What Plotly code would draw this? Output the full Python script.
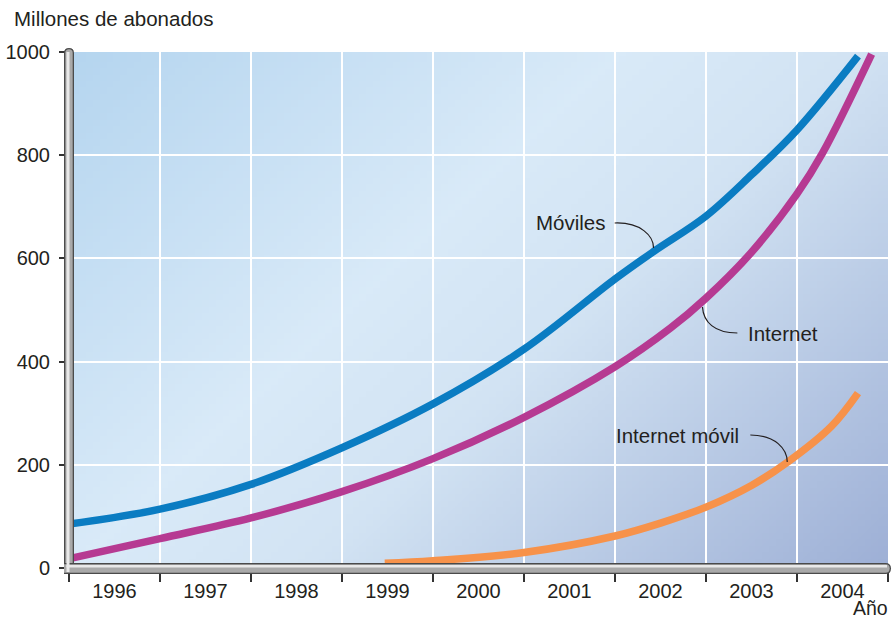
import base64, struct, zlib
import plotly.graph_objects as go

# ---------------- data ----------------
tick_years = [1996, 1997, 1998, 1999, 2000, 2001, 2002, 2003, 2004]
tick_labels = [str(y) for y in tick_years]
y_ticks = [0, 200, 400, 600, 800, 1000]

# x in fractional years (label year centred in its band)
moviles_x = [1995.5, 1996.5, 1997.5, 1998.5, 1999.5, 2000.5, 2001.5, 2001.93, 2002.5, 2003.0, 2003.5, 2004.17]
moviles_y = [85, 114, 162, 233, 318, 424, 560, 614, 682, 762, 849, 992]

internet_x = [1995.53, 1996.5, 1997.5, 1998.5, 1999.5, 2000.5, 2001.5, 2002.11, 2002.5, 2003.0, 2003.5, 2003.78, 2004.32]
internet_y = [19, 57, 97, 148, 212, 292, 390, 465, 523, 612, 725, 804, 996]

imovil_x = [1998.97, 1999.5, 2000.5, 2001.5, 2002.0, 2002.5, 2003.0, 2003.41, 2003.88, 2004.17]
imovil_y = [9, 14, 30, 62, 87, 118, 160, 207, 275, 339]

# ---------------- geometry helpers (layout only) ----------------
L, R, T, B = 67, 888, 52, 568
W, H = 893, 620


def X(px):
    return 1995.5 + (px - L) / (R - L) * 9.0


def Y(py):
    return (B - py) / (B - T) * 1000.0


def PX(px):
    return (px - L) / (R - L)


def PY(py):
    return (B - py) / (B - T)


# ---------------- gradient background as PNG ----------------
def lerp(a, b, t):
    return tuple(int(round(a[i] + (b[i] - a[i]) * t)) for i in range(3))


stops = [(0.0, (181, 213, 239)), (0.40, (217, 234, 248)), (0.58, (210, 227, 243)), (1.0, (158, 176, 214))]


def grad(t):
    for i in range(len(stops) - 1):
        t0, c0 = stops[i]
        t1, c1 = stops[i + 1]
        if t <= t1:
            return lerp(c0, c1, (t - t0) / (t1 - t0))
    return stops[-1][1]


gw, gh = 120, 80
rows = []
for j in range(gh):
    row = bytearray([0])
    for i in range(gw):
        t = 0.6 * i / (gw - 1) + 0.4 * j / (gh - 1)
        row.extend(grad(t))
    rows.append(bytes(row))
raw = b"".join(rows)


def chunk(tag, data):
    c = struct.pack(">I", len(data)) + tag + data
    return c + struct.pack(">I", zlib.crc32(tag + data) & 0xffffffff)


png = b"\x89PNG\r\n\x1a\n" + chunk(b"IHDR", struct.pack(">IIBBBBB", gw, gh, 8, 2, 0, 0, 0)) \
    + chunk(b"IDAT", zlib.compress(raw, 9)) + chunk(b"IEND", b"")
bg_uri = "data:image/png;base64," + base64.b64encode(png).decode()

# ---------------- figure ----------------
fig = go.Figure()
font_family = "Liberation Sans, Arial, sans-serif"
txt = "#231f20"

series = [
    ("Móviles", moviles_x, moviles_y, "#0a7cc2"),
    ("Internet", internet_x, internet_y, "#b63a92"),
    ("Internet móvil", imovil_x, imovil_y, "#f7924a"),
]
for name, xs, ys, col in series:
    fig.add_trace(go.Scatter(x=xs, y=ys, mode="lines", name=name,
                             line=dict(color=col, width=7.5, shape="spline", smoothing=1.0),
                             hoverinfo="skip", showlegend=False))

fig.add_layout_image(dict(source=bg_uri, xref="paper", yref="paper", x=0, y=1,
                          sizex=1, sizey=1, sizing="stretch", layer="below"))

shapes = []


def bar_path(kind, inset):
    if kind == "v":
        x0, x1, yt, yb = 62 + inset, 72 - inset, 48 + inset, 573
        r = (x1 - x0) / 2
        xm = (x0 + x1) / 2
        return (f"M {PX(x0)},{PY(yb)} L {PX(x0)},{PY(yt + r)} Q {PX(x0)},{PY(yt)} {PX(xm)},{PY(yt)} "
                f"Q {PX(x1)},{PY(yt)} {PX(x1)},{PY(yt + r)} L {PX(x1)},{PY(yb)} Z")
    else:
        y0, y1, xl, xr = 563 + inset, 574 - inset, 62, 891 - inset
        r = (y1 - y0) / 2
        ym = (y0 + y1) / 2
        return (f"M {PX(xl)},{PY(y0)} L {PX(xr - r)},{PY(y0)} Q {PX(xr)},{PY(y0)} {PX(xr)},{PY(ym)} "
                f"Q {PX(xr)},{PY(y1)} {PX(xr - r)},{PY(y1)} L {PX(xl)},{PY(y1)} Z")


for kind in ("v", "h"):
    shapes.append(dict(type="path", xref="paper", yref="paper", path=bar_path(kind, 0),
                       fillcolor="#4a4a4a", line=dict(width=0), layer="above"))
    shapes.append(dict(type="path", xref="paper", yref="paper", path=bar_path(kind, 1.3),
                       fillcolor="#a9a9a9", line=dict(width=0), layer="above"))
# highlights
shapes.append(dict(type="rect", xref="paper", yref="paper", x0=PX(64.5), x1=PX(67.5),
                   y0=PY(572), y1=PY(52), fillcolor="#e9e9e9", line=dict(width=0), layer="above"))
shapes.append(dict(type="rect", xref="paper", yref="paper", x0=PX(64.5), x1=PX(887),
                   y0=PY(567.5), y1=PY(565), fillcolor="#e9e9e9", line=dict(width=0), layer="above"))

# pointer curves for labels
pointer_paths = [
    ((614, 223), (640, 222), (653, 236), (653, 248)),
    ((737, 333), (714, 333), (703, 322), (702, 307)),
    ((750, 435), (775, 435), (787, 449), (787, 462)),
]
for p0, c1, c2, p1 in pointer_paths:
    shapes.append(dict(type="path", xref="x", yref="y",
                       path=f"M {X(p0[0])},{Y(p0[1])} C {X(c1[0])},{Y(c1[1])} {X(c2[0])},{Y(c2[1])} {X(p1[0])},{Y(p1[1])}",
                       line=dict(color=txt, width=1.2), layer="above"))

ann_font = dict(size=20.5, color=txt, family=font_family)
annotations = [
    dict(text="Móviles", x=X(607), y=Y(222), xref="x", yref="y", xanchor="right", yanchor="middle",
         showarrow=False, font=ann_font),
    dict(text="Internet", x=X(746), y=Y(333), xref="x", yref="y", xanchor="left", yanchor="middle",
         showarrow=False, font=ann_font),
    dict(text="Internet móvil", x=X(741), y=Y(435), xref="x", yref="y", xanchor="right", yanchor="middle",
         showarrow=False, font=ann_font),
    dict(text="Millones de abonados", x=PX(10), y=PY(18), xref="paper", yref="paper", xanchor="left",
         yanchor="middle", showarrow=False, font=ann_font),
    dict(text="Año", x=PX(889), y=PY(620), xref="paper", yref="paper", xanchor="right",
         yanchor="bottom", borderpad=0, showarrow=False,
         font=dict(size=19.5, color=txt, family=font_family)),
]

fig.update_layout(
    width=W, height=H,
    margin=dict(l=L, r=W - R, t=T, b=H - B, pad=0),
    paper_bgcolor="white",
    plot_bgcolor="rgba(0,0,0,0)",
    shapes=shapes,
    annotations=annotations,
    font=dict(family=font_family, size=20, color=txt),
    xaxis=dict(range=[1995.5, 2004.5], tickmode="array", tickvals=tick_years, ticktext=tick_labels,
               ticks="", showgrid=False, zeroline=False, showline=False, ticklabelstandoff=9,
               tickfont=dict(size=20),
               minor=dict(tick0=1995.5, dtick=1, ticks="outside", ticklen=13, tickwidth=1.5,
                          tickcolor="#333333", showgrid=True, gridcolor="white", gridwidth=1.6),
               fixedrange=True),
    yaxis=dict(range=[0, 1000], tickmode="array", tickvals=y_ticks, ticks="outside", ticklen=9,
               tickwidth=1.5, tickcolor="#333333", showgrid=True, gridcolor="white", gridwidth=1.6,
               tickfont=dict(size=20),
               zeroline=False, showline=False, ticklabelstandoff=5, fixedrange=True),
)

fig.write_html("out.html")
